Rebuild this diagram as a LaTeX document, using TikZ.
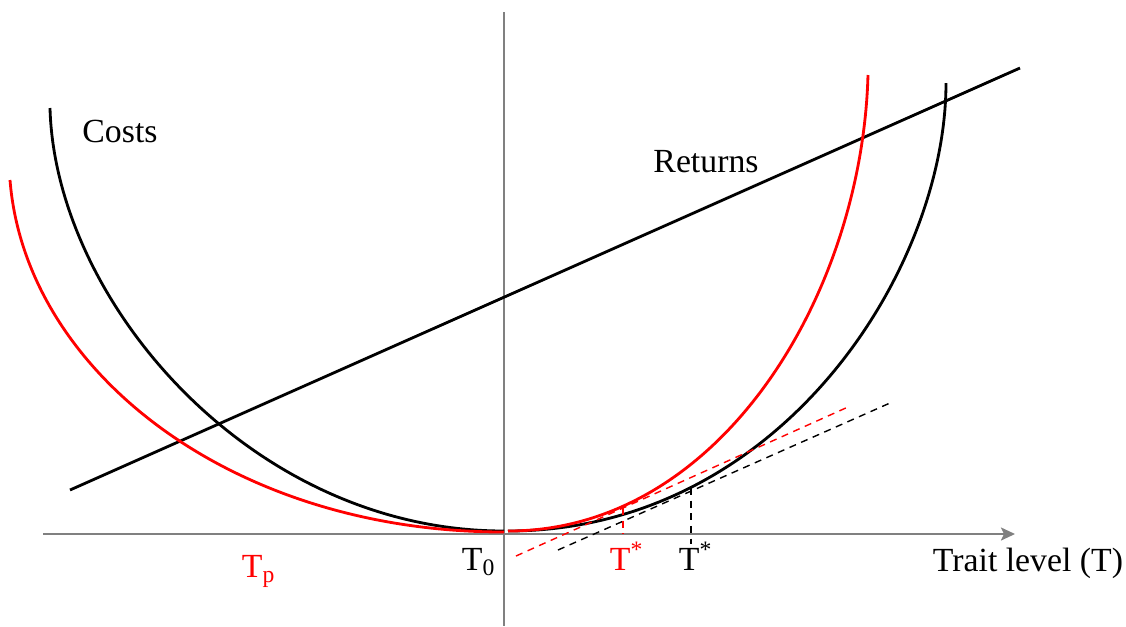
\documentclass[tikz,border=0pt]{standalone}
\usepackage{fontspec}
\setmainfont{Liberation Serif}
\usetikzlibrary{arrows.meta}

\tikzset{
  axisline/.style={gray, line width=0.6pt},
  curve/.style={line width=0.8pt},
  tangent/.style={line width=0.4pt, dash pattern=on 2pt off 1.6pt},
  lbl/.style={anchor=base, inner sep=0pt, font=\fontsize{9.6}{11}\selectfont}
}

\begin{document}
\begin{tikzpicture}[x=0.01cm, y=-0.01cm]
    \useasboundingbox (0,0) rectangle (1126,626);

    % Axes
    \coordinate (axL) at (43,534);
    \coordinate (axR) at (1015,534);
    \draw[axisline, -{Stealth[length=1.4mm, width=1.3mm, inset=0.3mm]}] (axL) -- (axR);
    \draw[axisline] (504,12) -- (504,626);

    % Returns
    \coordinate (retA) at (70,490);
    \coordinate (retB) at (1020,68);
    \draw[curve] (retA) -- (retB);

    % Costs (black)
    \draw[curve] (504,531) .. controls (250,531) and (55,300) .. (50,108);
    \draw[curve] (508,531) .. controls (780,531) and (946,270) .. (946,83);

    % Costs (red)
    \draw[curve, red] (504,532) .. controls (230,532) and (25,370) .. (10,180);
    \draw[curve, red] (508,531) .. controls (720,531) and (862,295) .. (868,75);

    % Tangents at the optimum
    \coordinate (tanR) at (623,508);
    \coordinate (tanK) at (691,488);
    \draw[tangent, red] (516,556) -- (848,407);
    \draw[tangent] (558,550) -- (890,403);
    \draw[tangent, red] (tanR) -- (tanR |- axL);
    \draw[tangent] (tanK) -- ([yshift=-0.1cm]tanK |- axL);

    % Labels
    \node[lbl] (costs) at (120,142) {Costs};
    \node[lbl] (returns) at (706,172) {Returns};
    \node[lbl] (trait) at (1028,571) {Trait level (T)};
    \node[lbl] (tzero) at (479,570) {T\textsubscript{0}};
    \node[lbl, red] (tp) at (259,577) {T\textsubscript{p}};
    \node[lbl, red] (tstarR) at (627,570) {T\textsuperscript{*}};
    \node[lbl] (tstarK) at (696,570) {T\textsuperscript{*}};
\end{tikzpicture}
\end{document}
